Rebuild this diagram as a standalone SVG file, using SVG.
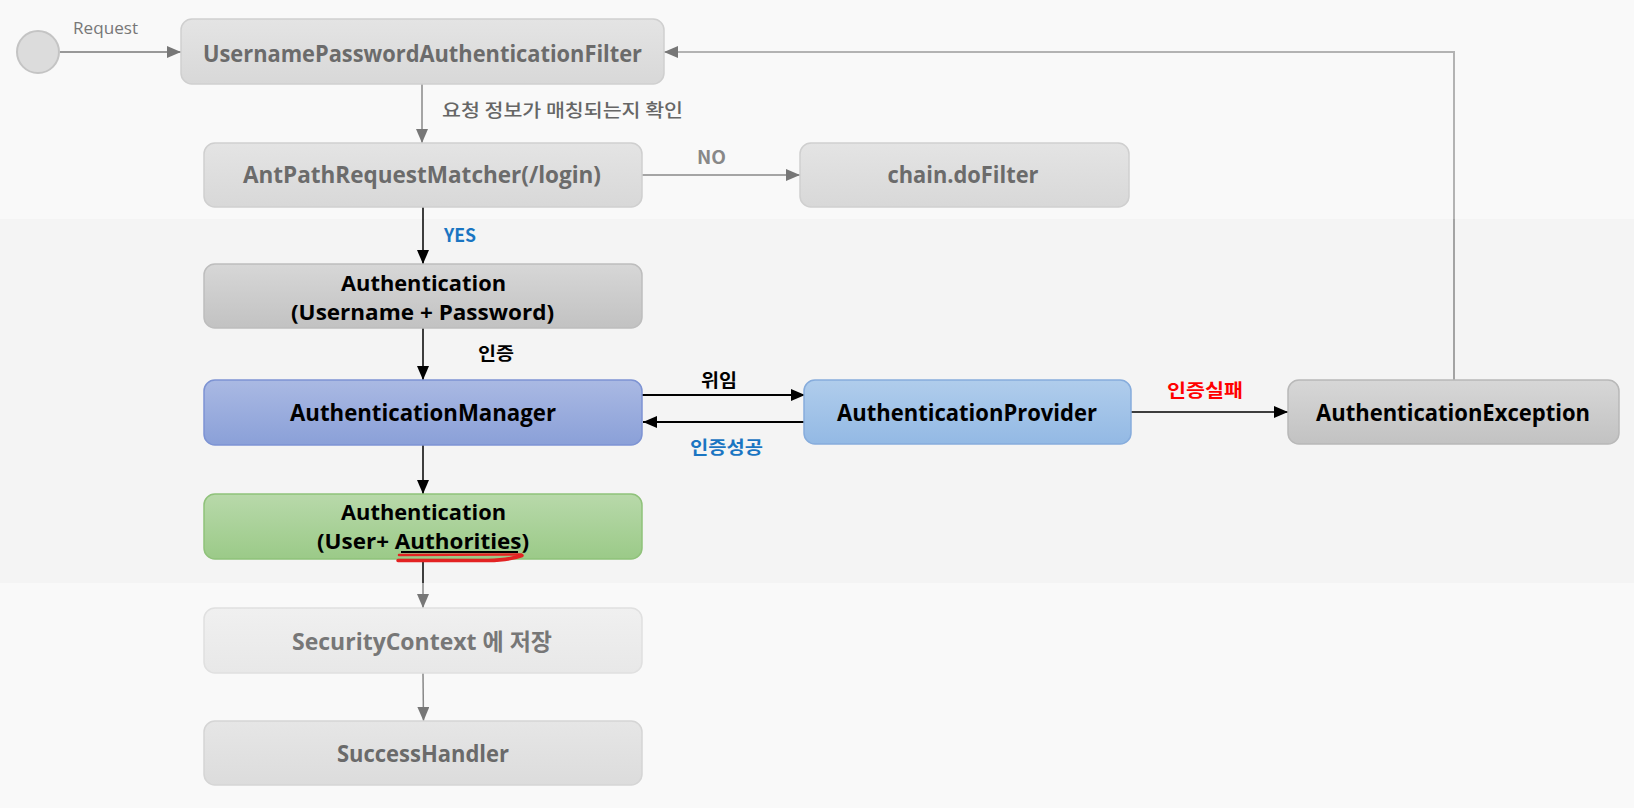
<svg xmlns="http://www.w3.org/2000/svg" width="1634" height="808" viewBox="0 0 1634 808">
<defs>
<style>
.box{stroke-width:1.5}
.t{font-family:"Open Sans","Noto Sans CJK KR",sans-serif;font-weight:bold;font-size:23px;text-anchor:middle}
.t2{font-size:21px}
.k{font-family:"Noto Sans CJK KR","Open Sans",sans-serif;font-weight:bold;font-size:18px;text-anchor:middle}
.fade{fill:#6b6b6b}
.blk{fill:#000}
</style>
<linearGradient id="gTop" x1="0" y1="0" x2="0" y2="1"><stop offset="0" stop-color="#e4e4e4"/><stop offset="1" stop-color="#d8d8d8"/></linearGradient>
<linearGradient id="gGray" x1="0" y1="0" x2="0" y2="1"><stop offset="0" stop-color="#d7d7d7"/><stop offset="1" stop-color="#c2c2c2"/></linearGradient>
<linearGradient id="gMgr" x1="0" y1="0" x2="0" y2="1"><stop offset="0" stop-color="#aab9e3"/><stop offset="1" stop-color="#8aa0d8"/></linearGradient>
<linearGradient id="gProv" x1="0" y1="0" x2="0" y2="1"><stop offset="0" stop-color="#b0cdec"/><stop offset="1" stop-color="#93b9e4"/></linearGradient>
<linearGradient id="gGreen" x1="0" y1="0" x2="0" y2="1"><stop offset="0" stop-color="#b8d9aa"/><stop offset="1" stop-color="#9bca88"/></linearGradient>
<linearGradient id="gSC" x1="0" y1="0" x2="0" y2="1"><stop offset="0" stop-color="#f0f0f0"/><stop offset="1" stop-color="#e8e8e8"/></linearGradient>
<linearGradient id="gSH" x1="0" y1="0" x2="0" y2="1"><stop offset="0" stop-color="#e6e6e6"/><stop offset="1" stop-color="#dcdcdc"/></linearGradient>
<marker id="aBlk" markerWidth="14" markerHeight="12" refX="14" refY="6" orient="auto" markerUnits="userSpaceOnUse"><path d="M0,0 L14,6 L0,12 z" fill="#000"/></marker>
<marker id="aGry" markerWidth="14" markerHeight="12" refX="14" refY="6" orient="auto" markerUnits="userSpaceOnUse"><path d="M0,0 L14,6 L0,12 z" fill="#777"/></marker>
</defs>

<rect x="0" y="0" width="1634" height="808" fill="#f9f9f9"/>
<rect x="0" y="219" width="1634" height="364" fill="#f4f4f4"/>

<g id="connectors">
<line x1="60" y1="52" x2="181" y2="52" stroke="#999" stroke-width="2" marker-end="url(#aGry)"/>
<line x1="422" y1="84" x2="422" y2="143" stroke="#888" stroke-width="1.5" marker-end="url(#aGry)"/>
<line x1="642" y1="175" x2="800" y2="175" stroke="#888" stroke-width="1.5" marker-end="url(#aGry)"/>
<line x1="423" y1="207" x2="423" y2="264" stroke="#000" stroke-width="1.5" marker-end="url(#aBlk)"/>
<line x1="423" y1="328" x2="423" y2="380" stroke="#000" stroke-width="1.5" marker-end="url(#aBlk)"/>
<line x1="642" y1="395" x2="805" y2="395" stroke="#000" stroke-width="2" marker-end="url(#aBlk)"/>
<line x1="804" y1="422" x2="643" y2="422" stroke="#000" stroke-width="2" marker-end="url(#aBlk)"/>
<line x1="1131" y1="412" x2="1288" y2="412" stroke="#000" stroke-width="1.5" marker-end="url(#aBlk)"/>
<line x1="423" y1="445" x2="423" y2="494" stroke="#000" stroke-width="1.5" marker-end="url(#aBlk)"/>
<line x1="423" y1="559" x2="423" y2="583" stroke="#000" stroke-width="1.5"/>
<line x1="423" y1="583" x2="423" y2="608" stroke="#888" stroke-width="1.5" marker-end="url(#aGry)"/>
<line x1="423" y1="673" x2="423.5" y2="721" stroke="#888" stroke-width="1.5" marker-end="url(#aGry)"/>
<line x1="1454" y1="380" x2="1454" y2="219" stroke="#888" stroke-width="1.5"/>
<polyline points="1454,219 1454,52 664,52" fill="none" stroke="#b3b3b3" stroke-width="2" marker-end="url(#aGry)"/>
<text x="105.5" y="34" font-family="Open Sans,'Noto Sans CJK KR',sans-serif" font-size="17" fill="#777" text-anchor="middle" textLength="65" lengthAdjust="spacingAndGlyphs">Request</text>
<text x="562.5" y="117" font-family="'Noto Sans CJK KR',sans-serif" font-size="18" font-weight="500" fill="#666" text-anchor="middle" textLength="241" lengthAdjust="spacingAndGlyphs">요청 정보가 매칭되는지 확인</text>
<text class="k" x="711.5" y="164" fill="#888" textLength="29" lengthAdjust="spacingAndGlyphs">NO</text>
<text class="k" x="460" y="242" fill="#1a75c2" textLength="32" lengthAdjust="spacingAndGlyphs">YES</text>
<text class="k" x="496" y="360" fill="#000" textLength="36" lengthAdjust="spacingAndGlyphs">인증</text>
<text class="k" x="719" y="387" fill="#000" textLength="36" lengthAdjust="spacingAndGlyphs">위임</text>
<text class="k" x="726.5" y="454" fill="#1a75c2" textLength="73" lengthAdjust="spacingAndGlyphs">인증성공</text>
<text class="k" x="1205" y="397" fill="#ff0000" textLength="76" lengthAdjust="spacingAndGlyphs">인증실패</text>
</g>

<g id="start">
<circle cx="38" cy="52" r="21" fill="#dcdcdc" stroke="#c4c4c4" stroke-width="2"/>
</g>

<g id="upaf">
<rect class="box" x="181" y="19" width="483" height="65" rx="11" fill="url(#gTop)" stroke="#cfcfcf"/>
<text class="t fade" x="422.5" y="62" textLength="439" lengthAdjust="spacingAndGlyphs">UsernamePasswordAuthenticationFilter</text>
</g>

<g id="antpath">
<rect class="box" x="204" y="143" width="438" height="64" rx="11" fill="url(#gTop)" stroke="#cfcfcf"/>
<text class="t fade" x="422" y="183" textLength="358" lengthAdjust="spacingAndGlyphs">AntPathRequestMatcher(/login)</text>
</g>

<g id="chain">
<rect class="box" x="800" y="143" width="329" height="64" rx="11" fill="url(#gTop)" stroke="#cfcfcf"/>
<text class="t fade" x="963" y="183" textLength="151" lengthAdjust="spacingAndGlyphs">chain.doFilter</text>
</g>

<g id="auth1">
<rect class="box" x="204" y="264" width="438" height="64" rx="11" fill="url(#gGray)" stroke="#bdbdbd"/>
<text class="t t2 blk" x="423.5" y="291" textLength="165" lengthAdjust="spacingAndGlyphs">Authentication</text>
<text class="t t2 blk" x="422.5" y="320" textLength="263" lengthAdjust="spacingAndGlyphs">(Username + Password)</text>
</g>

<g id="manager">
<rect class="box" x="204" y="380" width="438" height="65" rx="11" fill="url(#gMgr)" stroke="#7d93d3"/>
<text class="t blk" x="423" y="421" textLength="266" lengthAdjust="spacingAndGlyphs">AuthenticationManager</text>
</g>

<g id="provider">
<rect class="box" x="804" y="380" width="327" height="64" rx="11" fill="url(#gProv)" stroke="#86acdc"/>
<text class="t blk" x="967" y="421" textLength="260" lengthAdjust="spacingAndGlyphs">AuthenticationProvider</text>
</g>

<g id="exception">
<rect class="box" x="1288" y="380" width="331" height="64" rx="11" fill="url(#gGray)" stroke="#b8b8b8"/>
<text class="t blk" x="1453" y="421" textLength="274" lengthAdjust="spacingAndGlyphs">AuthenticationException</text>
</g>

<g id="auth2">
<rect class="box" x="204" y="494" width="438" height="65" rx="11" fill="url(#gGreen)" stroke="#8fc27a"/>
<text class="t t2 blk" x="423.5" y="520" textLength="165" lengthAdjust="spacingAndGlyphs">Authentication</text>
<text class="t t2 blk" x="423" y="549" textLength="212" lengthAdjust="spacingAndGlyphs">(User+ Authorities)</text>
<line x1="401" y1="552" x2="518" y2="552" stroke="#000" stroke-width="2"/>
<path d="M399,555 L521,554.5" fill="none" stroke="#e32222" stroke-width="2.5" stroke-linecap="round"/>
<path d="M398,560.5 L488,560.5 Q510,560 522,555.5" fill="none" stroke="#e32222" stroke-width="3.5" stroke-linecap="round"/>
</g>

<g id="securitycontext">
<rect class="box" x="204" y="608" width="438" height="65" rx="11" fill="url(#gSC)" stroke="#e0e0e0"/>
<text class="t" x="422" y="650" fill="#777" textLength="260" lengthAdjust="spacingAndGlyphs">SecurityContext 에 저장</text>
</g>

<g id="successhandler">
<rect class="box" x="204" y="721" width="438" height="64" rx="11" fill="url(#gSH)" stroke="#d5d5d5"/>
<text class="t" x="423" y="762" fill="#6a6a6a" textLength="172" lengthAdjust="spacingAndGlyphs">SuccessHandler</text>
</g>
</svg>
